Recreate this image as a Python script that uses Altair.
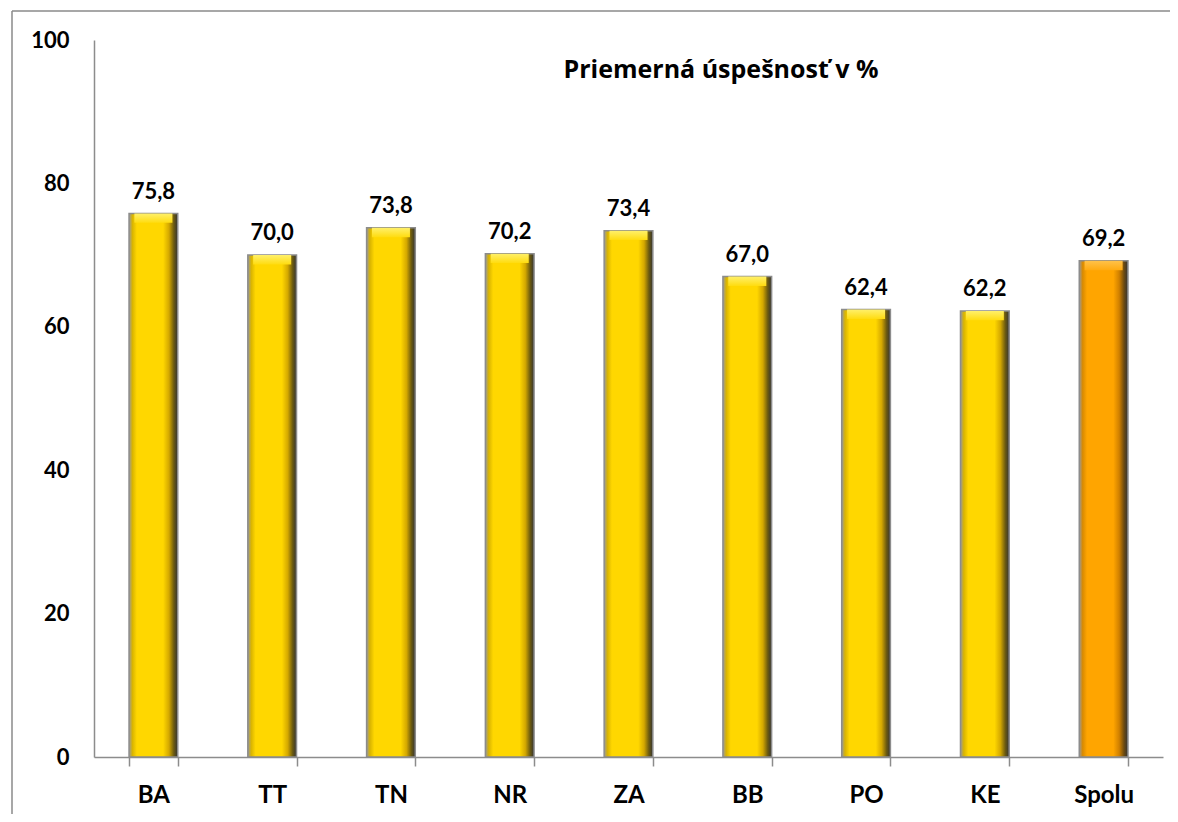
import altair as alt
import pandas as pd

categories = ["BA", "TT", "TN", "NR", "ZA", "BB", "PO", "KE", "Spolu"]
values = [75.8, 70.0, 73.8, 70.2, 73.4, 67.0, 62.4, 62.2, 69.2]
kinds = ["kraj"] * 8 + ["spolu"]
y_ticks = [0, 20, 40, 60, 80, 100]
title_text = "Priemerná úspešnosť v %"

df = pd.DataFrame({"cat": categories, "val": values, "kind": kinds})

FONT = "Lato"
TFONT = "Open Sans"

yellow_grad = alt.LinearGradient(
    gradient="linear", x1=0, x2=1, y1=0, y2=0,
    stops=[
        alt.GradientStop(offset=0.0, color="#9a9a9a"),
        alt.GradientStop(offset=0.07, color="#d9b400"),
        alt.GradientStop(offset=0.16, color="#ffd700"),
        alt.GradientStop(offset=0.70, color="#ffd700"),
        alt.GradientStop(offset=0.82, color="#d4a800"),
        alt.GradientStop(offset=0.92, color="#6b5a10"),
        alt.GradientStop(offset=1.0, color="#333333"),
    ],
)
orange_grad = alt.LinearGradient(
    gradient="linear", x1=0, x2=1, y1=0, y2=0,
    stops=[
        alt.GradientStop(offset=0.0, color="#9a9a9a"),
        alt.GradientStop(offset=0.07, color="#d98a00"),
        alt.GradientStop(offset=0.16, color="#ffa500"),
        alt.GradientStop(offset=0.70, color="#ffa500"),
        alt.GradientStop(offset=0.82, color="#d08000"),
        alt.GradientStop(offset=0.92, color="#6b4a10"),
        alt.GradientStop(offset=1.0, color="#333333"),
    ],
)
yellow_top = alt.LinearGradient(
    gradient="linear", x1=0, x2=0, y1=0, y2=1,
    stops=[
        alt.GradientStop(offset=0.0, color="#fff06a"),
        alt.GradientStop(offset=1.0, color="#ffdc10"),
    ],
)
orange_top = alt.LinearGradient(
    gradient="linear", x1=0, x2=0, y1=0, y2=1,
    stops=[
        alt.GradientStop(offset=0.0, color="#ffc24a"),
        alt.GradientStop(offset=1.0, color="#ffaa10"),
    ],
)

x_enc = alt.X(
    "cat:N", sort=categories, title=None,
    scale=alt.Scale(paddingInner=0.59, paddingOuter=0.295),
    axis=alt.Axis(
        labelAngle=0, labelFont=FONT, labelFontWeight="bold", labelFontSize=24,
        labelColor="black", labelPadding=17, tickSize=9, tickColor="#8c8c8c",
        tickWidth=1.5, tickBand="extent", domainColor="#8c8c8c", domainWidth=1.5,
    ),
)
y_scale = alt.Scale(domain=[0, 100], nice=False)
y_enc = alt.Y(
    "val:Q", title=None, scale=y_scale,
    axis=alt.Axis(
        values=y_ticks, grid=False, ticks=False, labelFont=FONT,
        labelFontWeight="bold", labelFontSize=22, labelColor="black",
        labelPadding=25, domainColor="#8c8c8c", domainWidth=1.5,
    ),
)

base = alt.Chart(df)

bars_y = base.transform_filter(alt.datum.kind == "kraj").mark_bar(
    color=yellow_grad, stroke="#8c8c8c", strokeWidth=1.5
).encode(x=x_enc, y=y_enc)

bars_o = base.transform_filter(alt.datum.kind == "spolu").mark_bar(
    color=orange_grad, stroke="#8c8c8c", strokeWidth=1.5
).encode(x=x_enc, y=y_enc)

top_y = base.transform_filter(alt.datum.kind == "kraj").transform_calculate(
    v2="datum.val - 1.3"
).mark_bar(color=yellow_top, width=38).encode(
    x=x_enc, y=alt.Y("val:Q", scale=y_scale), y2="v2:Q"
)
top_o = base.transform_filter(alt.datum.kind == "spolu").transform_calculate(
    v2="datum.val - 1.3"
).mark_bar(color=orange_top, width=38).encode(
    x=x_enc, y=alt.Y("val:Q", scale=y_scale), y2="v2:Q"
)

labels = base.transform_calculate(
    lab="replace(format(datum.val, '.1f'), '.', ',')"
).mark_text(
    font=FONT, fontWeight="bold", fontSize=22, color="black",
    baseline="bottom", dy=-10,
).encode(x=x_enc, y=alt.Y("val:Q", scale=y_scale), text="lab:N")

one = pd.DataFrame({"f": [0]})
frame_top = alt.Chart(one).mark_rule(
    color="#8a8a8a", strokeWidth=1.5, clip=False
).encode(x=alt.value(-82), x2=alt.value(1100), y=alt.value(-29))
frame_left = alt.Chart(one).mark_rule(
    color="#8a8a8a", strokeWidth=1.5, clip=False
).encode(x=alt.value(-82), y=alt.value(-29), y2=alt.value(800))

title = alt.Chart(pd.DataFrame({"t": [title_text]})).mark_text(
    font=TFONT, fontWeight="bold", fontSize=25, color="black",
    align="center", baseline="alphabetic",
).encode(x=alt.value(627), y=alt.value(38), text="t:N")

chart = alt.layer(
    frame_top, frame_left, bars_y, bars_o, top_y, top_o, labels, title
).properties(
    width=1069, height=717,
    background="white",
    autosize=alt.AutoSizeParams(type="none"),
    padding={"left": 86, "top": 32, "right": 7, "bottom": 57},
).configure_view(stroke=None)

chart.save("out.html", embed_options={"renderer": "svg", "actions": False})
